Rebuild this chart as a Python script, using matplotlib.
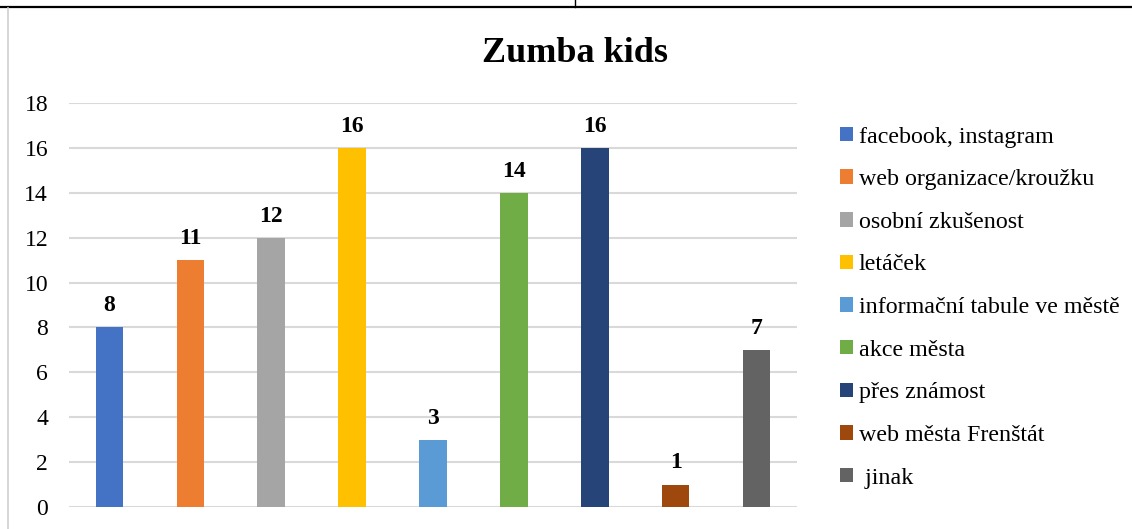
import matplotlib.pyplot as plt
from matplotlib.patches import Patch
from matplotlib.lines import Line2D

categories = ["facebook, instagram", "web organizace/kroužku", "osobní zkušenost",
              "letáček", "informační tabule ve městě", "akce města",
              "přes známost", "web města Frenštát", " jinak"]
values = [8, 11, 12, 16, 3, 14, 16, 1, 7]
colors = ["#4472C4", "#ED7D31", "#A5A5A5", "#FFC000", "#5B9BD5",
          "#70AD47", "#264478", "#9E480E", "#636363"]
yticks = [0, 2, 4, 6, 8, 10, 12, 14, 16, 18]

plt.rcParams['font.family'] = ['Liberation Serif', 'DejaVu Serif']

W, H = 1132, 529
fig = plt.figure(figsize=(W/100, H/100), dpi=100)
ax = fig.add_axes([69/W, (H-507)/H, (797-69)/W, (507-103)/H])

x = list(range(len(values)))
bars = ax.bar(x, values, width=0.34, color=colors, zorder=3)
for xi, v in zip(x, values):
    ax.annotate(str(v), (xi, v), xytext=(0, 8), textcoords='offset points',
                ha='center', va='bottom', fontsize=17, fontweight='bold')

ax.set_xlim(-0.5, len(values) - 0.5)
ax.set_ylim(0, 18)
ax.set_yticks(yticks)
ax.set_yticklabels([str(t) for t in yticks], fontsize=17)
ax.set_xticks([])
ax.tick_params(axis='y', length=0, pad=15)
ax.grid(axis='y', color='#D9D9D9', linewidth=1.5, zorder=0)
for s in ax.spines.values():
    s.set_visible(False)

fig.text(575/W, 1 - 53/H, "Zumba kids", ha='center', va='center',
         fontsize=26, fontweight='bold')

handles = [Patch(facecolor=c, edgecolor='none') for c in colors]
fig.legend(handles, categories, loc='upper left',
           bbox_to_anchor=(830/W, 1 - 117/H), frameon=False, fontsize=17.3,
           handlelength=0.55, handleheight=0.55, handletextpad=0.25,
           labelspacing=0.9, borderaxespad=0)

# page borders
fig.add_artist(Line2D([0, 1], [1 - 6.5/H, 1 - 6.5/H], color='black', linewidth=1.6,
                      transform=fig.transFigure))
fig.add_artist(Line2D([575/W, 575/W], [1 - 6.5/H, 1], color='black', linewidth=1.0,
                      transform=fig.transFigure))
fig.add_artist(Line2D([7.5/W, 7.5/W], [0, 1 - 8/H], color='#D0D0D0', linewidth=1.2,
                      transform=fig.transFigure))

fig.savefig("out.png", dpi=100)
